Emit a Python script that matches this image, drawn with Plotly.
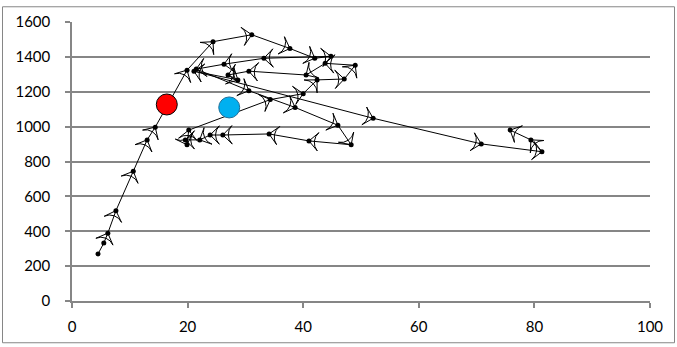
import plotly.graph_objects as go

# path values (x, y) in order of travel
path_x = [4.5, 5.5, 6.2, 7.6, 10.6, 13.0, 14.4, 19.9, 24.4, 31.1, 37.7, 42.0, 44.8, 33.2, 26.3, 21.5,
          30.6, 38.6, 46.0, 48.3, 41.0, 34.1, 26.1, 23.9, 22.1, 19.6, 19.9, 20.2,
          34.3, 40.0, 42.4, 47.1, 49.0, 43.8, 40.5, 30.6, 27.0, 28.7, 21.1,
          52.1, 70.8, 81.3, 79.4, 75.8]
path_y = [270, 332, 389, 518, 744, 924, 997, 1324, 1487, 1527, 1448, 1392, 1403, 1392, 1358, 1330,
          1206, 1110, 1008, 896, 918, 958, 952, 952, 924, 924, 896, 980,
          1155, 1189, 1268, 1273, 1352, 1363, 1296, 1318, 1296, 1268, 1318,
          1048, 901, 856, 924, 980]

red_x = [16.4]
red_y = [1127]
blue_x = [27.2]
blue_y = [1110]

y_ticks = [0, 200, 400, 600, 800, 1000, 1200, 1400, 1600]
x_ticks = [0, 20, 40, 60, 80, 100]

fig = go.Figure()
fig.add_trace(go.Scatter(x=path_x, y=path_y, mode="lines+markers",
                         line=dict(color="black", width=1),
                         marker=dict(symbol="circle", size=5, color="black"),
                         showlegend=False, hoverinfo="skip"))
fig.add_trace(go.Scatter(x=path_x[1:], y=path_y[1:], mode="markers",
                         marker=dict(symbol="arrow-wide-open", size=13, color="black",
                                     angleref="previous", line=dict(width=1, color="black")),
                         showlegend=False, hoverinfo="skip"))
fig.add_trace(go.Scatter(x=red_x, y=red_y, mode="markers",
                         marker=dict(symbol="circle", size=21, color="#ff0000",
                                     line=dict(width=1, color="black")),
                         showlegend=False))
fig.add_trace(go.Scatter(x=blue_x, y=blue_y, mode="markers",
                         marker=dict(symbol="circle", size=21, color="#00b0f0",
                                     line=dict(width=1, color="#1f6f99")),
                         showlegend=False))

W, H = 677, 347
ml, mr, mt, mb = 72, 27, 18, 45
pw, ph = W - ml - mr, H - mt - mb

def px_to_paper_x(p):
    return (p - ml) / pw

def py_to_paper_y(p):
    return (H - mb - p) / ph

fig.add_shape(type="rect", xref="paper", yref="paper",
              x0=px_to_paper_x(2.5), x1=px_to_paper_x(674.5),
              y0=py_to_paper_y(344.5), y1=py_to_paper_y(2.5),
              line=dict(color="#868686", width=1), fillcolor="rgba(0,0,0,0)", layer="below")

fig.update_layout(
    width=W, height=H,
    margin=dict(l=ml, r=mr, t=mt, b=mb),
    paper_bgcolor="white", plot_bgcolor="white",
    font=dict(family="Lato, Open Sans, sans-serif", size=15, color="black"),
    xaxis=dict(range=[0, 100], tickvals=x_ticks, showgrid=False, zeroline=False,
               showline=True, linecolor="#868686", linewidth=1.5,
               ticks="outside", ticklen=5, tickcolor="#868686", tickwidth=1.5,
               ticklabelstandoff=6),
    yaxis=dict(range=[0, 1600], tickvals=y_ticks, showgrid=True, gridcolor="#868686",
               gridwidth=1.5, zeroline=False, showline=True, linecolor="#868686", linewidth=1.5,
               ticks="outside", ticklen=5, tickcolor="#868686", tickwidth=1.5,
               ticklabelstandoff=12),
)

fig.write_html("out.html", config={"displayModeBar": False},
               post_script="document.body.style.margin='0';document.body.style.padding='0';document.body.style.overflow='hidden';")
